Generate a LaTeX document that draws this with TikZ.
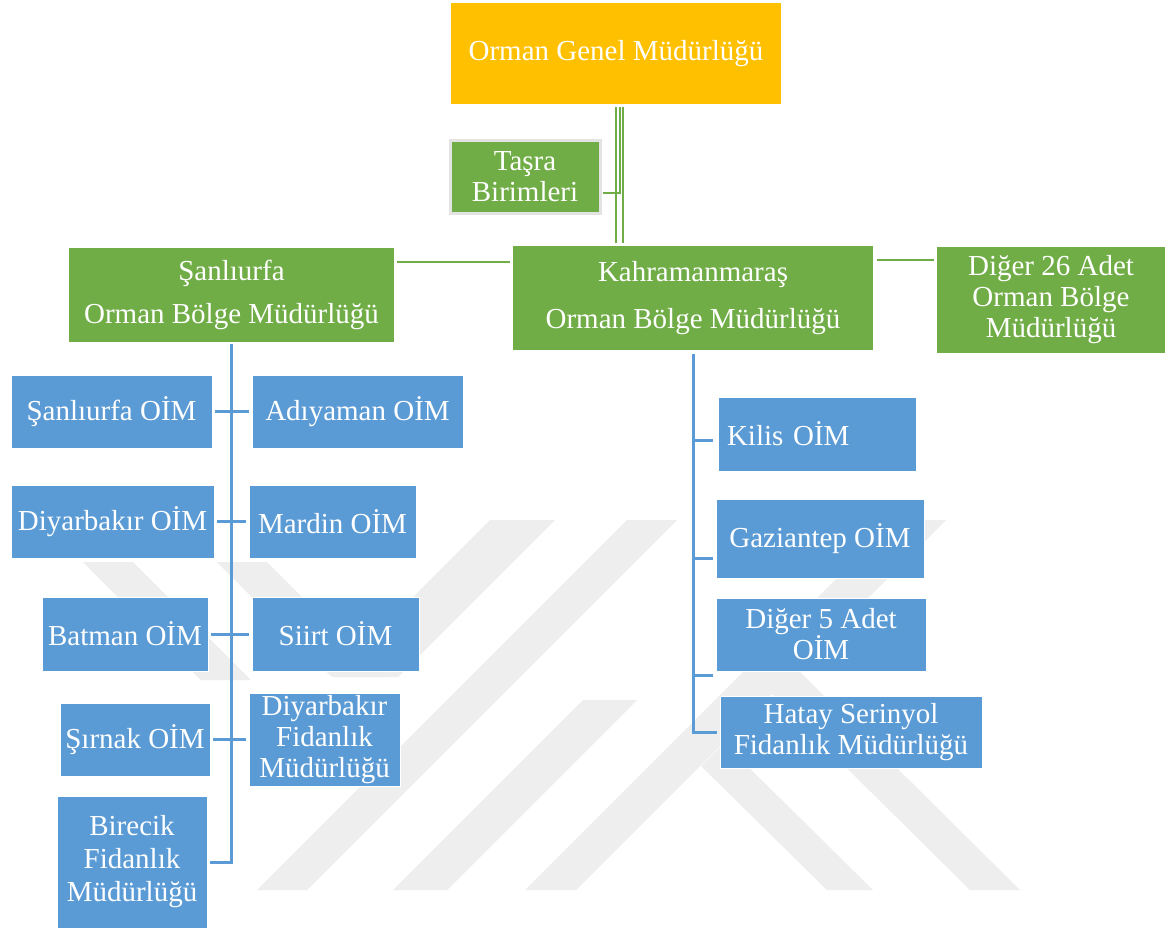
\documentclass[tikz,border=0pt]{standalone}
\usepackage{fontspec}
\setmainfont{Liberation Serif}
\definecolor{ogmorange}{HTML}{FFC000}
\definecolor{obmgreen}{HTML}{70AD47}
\definecolor{oimblue}{HTML}{5B9BD5}
\definecolor{wmgray}{HTML}{EEEEEE}
\definecolor{tasraedge}{HTML}{E3E3E3}
\begin{document}
\begin{tikzpicture}[x=1pt,y=-1pt,
  box/.style={anchor=north west, inner sep=0pt, outer sep=0pt, text=white,
    align=center, font=\fontsize{29}{31}\selectfont},
  orangebox/.style={box, fill=ogmorange},
  greenbox/.style={box, fill=obmgreen},
  bluebox/.style={box, fill=oimblue, draw=white, line width=1pt},
  gline/.style={draw=obmgreen, line width=2.8pt},
  bline/.style={draw=oimblue, line width=3pt},
  wm/.style={fill=wmgray, draw=none}]
\useasboundingbox (0,0) rectangle (1166,931);
\fill[white] (0,0) rectangle (1166,931);

% watermark
\fill[wm] (257,890) -- (307,890) -- (677,520) -- (627,520) -- cycle;
\fill[wm] (525,890) -- (576,890) -- (946,520) -- (895,520) -- cycle;
\fill[wm] (490,520) -- (555,520) -- (398,677) -- (333,677) -- cycle;
\fill[wm] (393,890) -- (447,890) -- (637,700) -- (583,700) -- cycle;
\fill[wm] (83,562) -- (133,562) -- (251,680) -- (201,680) -- cycle;
\fill[wm] (217,562) -- (267,562) -- (382,677) -- (332,677) -- cycle;
\fill[wm] (772,694) -- (797,669) -- (1020,890) -- (970,890) -- cycle;
\fill[wm] (701,766) -- (724,743) -- (873,890) -- (827,890) -- cycle;

% top levels
\node[orangebox, minimum width=330pt, minimum height=101pt] (ogm) at (451,3) {Orman Genel Müdürlüğü};
\node[greenbox, draw=tasraedge, line width=3pt, minimum width=150pt, minimum height=73pt] (tasra) at (450,140) {Taşra\\Birimleri};
\node[greenbox, minimum width=325pt, minimum height=94pt] (sobm) at (69,248) {Şanlıurfa\\[12pt]Orman Bölge Müdürlüğü};
\node[greenbox, minimum width=360pt, minimum height=104pt] (kah) at (513,246) {Kahramanmaraş\\[16pt]Orman Bölge Müdürlüğü};
\node[greenbox, minimum width=228pt, minimum height=106pt] (d26) at (937,247) {Diğer 26 Adet\\Orman Bölge\\Müdürlüğü};

% left group
\node[bluebox, minimum width=201pt, minimum height=73pt] (so) at (11,375) {Şanlıurfa OİM};
\node[bluebox, minimum width=211pt, minimum height=73pt] (ady) at (252,375) {Adıyaman OİM};
\node[bluebox, minimum width=203pt, minimum height=73pt] (dyo) at (11,485) {Diyarbakır OİM};
\node[bluebox, minimum width=167pt, minimum height=73pt] (mar) at (249,485) {Mardin OİM};
\node[bluebox, minimum width=166pt, minimum height=74pt] (bat) at (42,597) {Batman OİM};
\node[bluebox, minimum width=167pt, minimum height=74pt] (sii) at (252,597) {Siirt OİM};
\node[bluebox, minimum width=150pt, minimum height=73pt] (sir) at (60,703) {Şırnak OİM};
\node[bluebox, minimum width=151pt, minimum height=93pt] (dfm) at (249,693) {Diyarbakır\\Fidanlık\\Müdürlüğü};
\node[bluebox, minimum width=150pt, minimum height=132pt] (bir) at (57,796) {Birecik\\[2pt]Fidanlık\\[2pt]Müdürlüğü};

% right group
\node[bluebox, align=left, text width=180pt, inner xsep=9pt, minimum height=74pt] (kil) at (718,397) {Kilis OİM};
\node[bluebox, minimum width=208pt, minimum height=79pt] (gaz) at (716,499) {Gaziantep OİM};
\node[bluebox, minimum width=210pt, minimum height=73pt] (d5) at (716,598) {Diğer 5 Adet\\OİM};
\node[bluebox, minimum width=262pt, minimum height=72pt] (hat) at (720,696) {Hatay Serinyol\\Fidanlık Müdürlüğü};

% green connectors
\draw[gline, shorten <=3pt, shorten >=3pt] (ogm.south) -- (ogm.south |- kah.north);
\draw[gline, shorten <=3pt, shorten >=3pt] ([xshift=7pt]ogm.south) -- ([xshift=7pt]ogm.south |- kah.north);
\draw[gline, shorten <=3pt, shorten >=3pt] ([xshift=4pt]ogm.south) |- ([yshift=-16.5pt]tasra.east);
\draw[gline, shorten <=3pt, shorten >=3pt] ([yshift=-14pt]sobm.north east) -- ([yshift=-14pt]sobm.north east -| kah.west);
\draw[gline, shorten <=4pt, shorten >=3pt] ([yshift=-14pt]kah.north east) -- ([yshift=-14pt]kah.north east -| d26.west);

% left blue tree
\draw[bline, shorten <=2pt, shorten >=3pt] (sobm.south) |- (bir.east);
\draw[bline, shorten <=3pt, shorten >=3pt] (so.east) -- (so.east -| ady.west);
\draw[bline, shorten <=3pt, shorten >=3pt] (dyo.east) -- (dyo.east -| mar.west);
\draw[bline, shorten <=3pt, shorten >=3pt] (bat.east) -- (bat.east -| sii.west);
\draw[bline, shorten <=3pt, shorten >=3pt] (sir.east) -- (sir.east -| dfm.west);

% right blue tree
\coordinate (kb) at ([yshift=-6pt]kil.west);
\coordinate (gb) at ([yshift=-19.5pt]gaz.west);
\coordinate (db) at ([yshift=-40.5pt]d5.west);
\draw[bline, shorten <=4pt, shorten >=3pt] (kah.south) |- (hat.west);
\draw[bline, shorten >=5pt] (kah.south |- kb) -- (kb);
\draw[bline, shorten >=3pt] (kah.south |- gb) -- (gb);
\draw[bline, shorten >=3pt] (kah.south |- db) -- (db);
\end{tikzpicture}
\end{document}
